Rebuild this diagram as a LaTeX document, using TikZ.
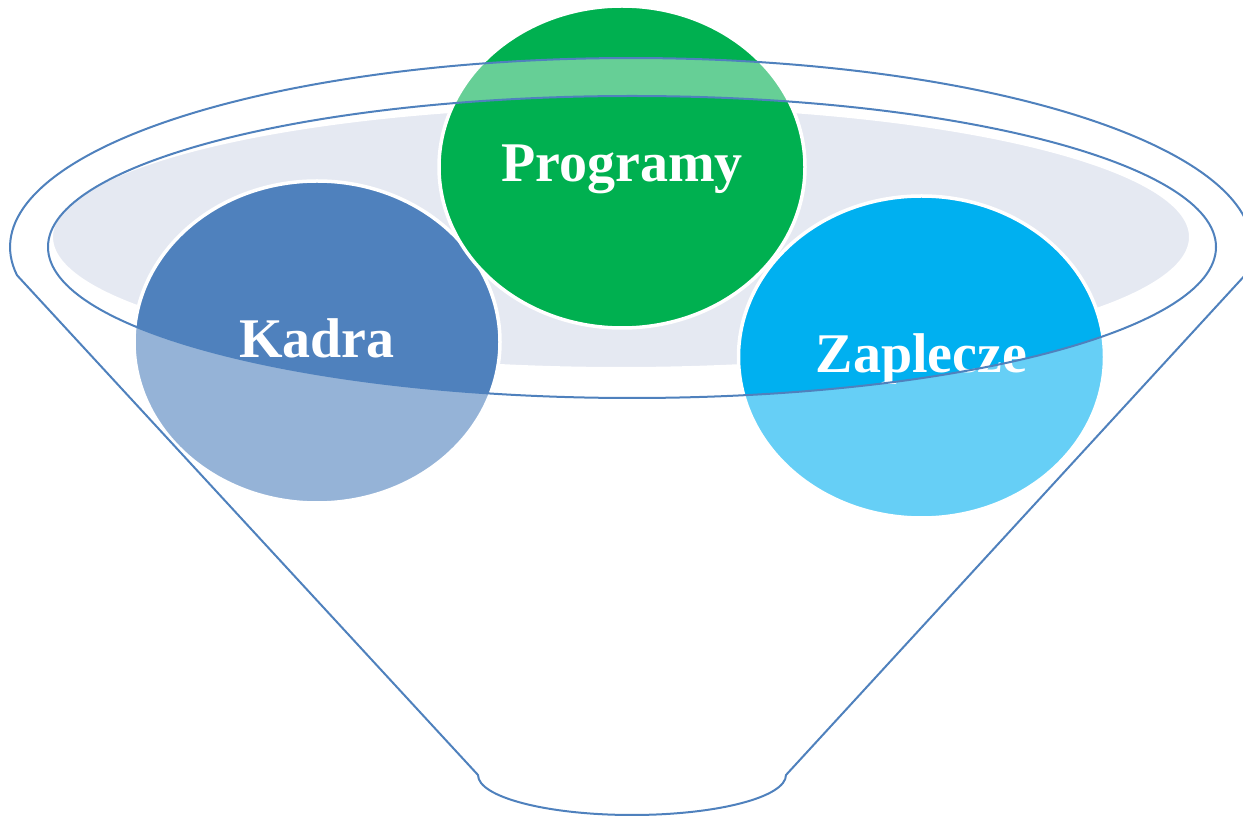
\documentclass[tikz,border=0pt]{standalone}
\usepackage{fontspec}
\setmainfont{Liberation Serif}
\usetikzlibrary{shapes.geometric}
\definecolor{fgreen}{HTML}{00B050}
\definecolor{fblue}{HTML}{4F81BD}
\definecolor{fcyan}{HTML}{00B0F0}
\definecolor{fgray}{HTML}{E5E9F2}
\tikzset{
  ball/.style={ellipse, draw=white, line width=3.5pt, minimum width=366pt, minimum height=322pt, inner sep=0pt},
  balltext/.style={anchor=base, text=white, font=\fontsize{56}{60}\selectfont\bfseries, inner sep=0pt},
  funnelline/.style={draw=fblue, line width=2pt, line join=round}
}
\begin{document}
\begin{tikzpicture}[x=1pt,y=1pt]
\useasboundingbox (0,0) rectangle (1243,817);
% mouth of the funnel
\node[ellipse, fill=fgray, draw=white, line width=2pt, minimum width=1138pt, minimum height=262pt, inner sep=0pt] (mouth) at (621,580) {};
% balls
\node[ball, fill=fblue] (kadra) at (317,475) {};
\node[ball, fill=fcyan] (zaplecze) at (921.5,460) {};
\node[ball, fill=fgreen] (programy) at (622,650) {};
\node[balltext] (tprog) at (622,635) {Programy};
\node[balltext] (tkadra) at (317,459) {Kadra};
\node[balltext] (tzap) at (921.5,444) {Zaplecze};
% funnel body (semi-transparent white) with open inner ellipse
\path[fill=white, fill opacity=0.4, even odd rule]
  (631,570) ++(-8.6:621pt and 189pt) coordinate (rimR)
  arc[start angle=-8.6, end angle=188.6, x radius=621pt, y radius=189pt] coordinate (rimL)
  -- (478,42) coordinate (botL)
  arc[start angle=180, end angle=360, x radius=154pt, y radius=40pt] coordinate (botR)
  -- cycle
  (632,570) ellipse[x radius=584pt, y radius=151pt];
% funnel outline
\draw[funnelline] (rimR)
  arc[start angle=-8.6, end angle=188.6, x radius=621pt, y radius=189pt]
  -- (botL)
  arc[start angle=180, end angle=360, x radius=154pt, y radius=40pt]
  -- cycle;
\draw[funnelline] (632,570) ellipse[x radius=584pt, y radius=151pt];
\end{tikzpicture}
\end{document}
